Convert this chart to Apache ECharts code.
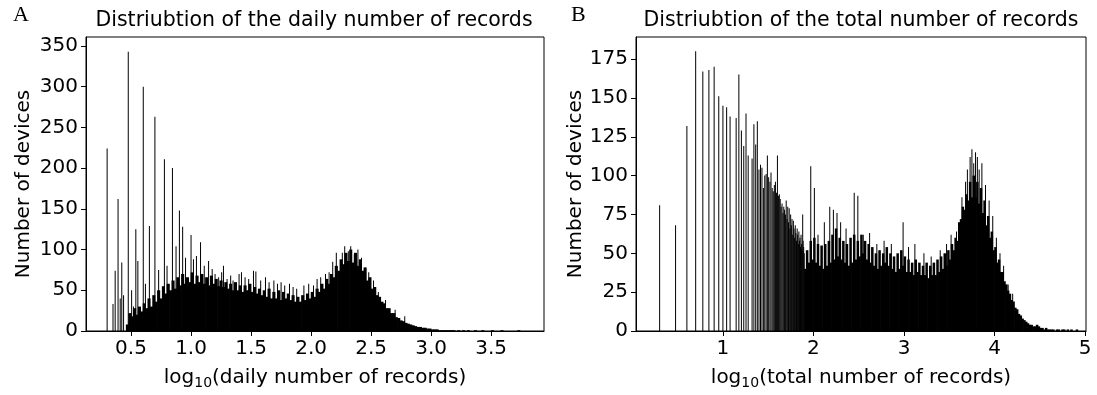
<!DOCTYPE html>
<html><head><meta charset="utf-8">
<script src="https://cdn.jsdelivr.net/npm/echarts@6/dist/echarts.min.js"></script>
<style>html,body{margin:0;padding:0;background:#fff}#c{width:1097px;height:395px}</style>
</head><body><div id="c"></div>
<script>
// ---------- Panel A: daily number of records ----------
const A_binStart = 0.46, A_binWidth = 0.02;
const A_counts = [
 8,22,18,28,20,30,24,34,28,40,
 30,44,36,50,40,55,46,58,50,62,
 52,66,56,70,58,66,60,72,58,68,
 60,70,58,66,56,68,58,64,55,62,
 54,60,52,58,50,60,50,56,48,56,
 50,58,48,54,46,52,44,50,42,52,
 40,48,40,50,38,48,40,46,38,44,
 36,42,36,44,38,46,40,48,42,52,
 48,58,52,64,58,70,66,80,74,88,
 82,96,86,100,84,96,80,88,74,78,
 62,66,52,54,44,42,36,34,28,28,
 22,22,17,16,13,12,10,9,8,7,
 6,5,5,4,4,3,3,2,2,2,
 1,1,1,1,1,1,1,0,1,0,
 1,0,1,0,0,1,0,0,1,0,
 0,0,1,0,0,0,1,0,0,0,
 0,0,0,1,0,0];
const A_spikes = [
 [0.301,224],[0.35,33],[0.368,74],[0.392,162],[0.41,40],[0.423,84],[0.438,44],[0.477,343],
 [0.505,50],[0.52,30],[0.54,125],[0.557,86],[0.602,300],[0.62,58],[0.653,129],[0.699,263],
 [0.73,75],[0.778,211],[0.80,80],[0.845,200],[0.875,104],[0.903,148],[0.93,128],[0.954,90],
 [1.0,118],[1.02,88],[1.045,92],[1.079,109],[1.11,80],[1.146,86],[1.176,76],[1.2,70],
 [1.23,66],[1.255,72],[1.27,80],[1.30,64],[1.33,68],[1.35,62],[1.40,70],[1.42,72],[1.45,66],
 [1.48,64],[1.52,74],[1.54,73],[1.58,62],[1.62,66],[1.65,60],[1.69,62],[1.72,58],[1.75,60],
 [1.78,56],[1.82,58],[1.85,54],[1.88,52],[1.94,56],[1.98,58],[2.02,56],[2.05,64],[2.08,66],
 [2.12,70],[2.15,72],[2.18,85],[2.21,96],[2.26,96],[2.28,104],[2.31,98],[2.33,104],[2.36,94],
 [2.39,100],[2.42,90],[2.45,78],[2.48,72],[2.52,62],[2.56,48],[2.62,38],[2.7,26],[2.78,18]];
const A_xTicks = [0.5,1.0,1.5,2.0,2.5,3.0,3.5];
const A_yTicks = [0,50,100,150,200,250,300,350];

// ---------- Panel B: total number of records ----------
const B_binStart = 1.90, B_binWidth = 0.02;
const B_counts = [
 40,52,44,58,46,60,44,56,42,55,
 40,56,42,58,44,62,46,66,48,60,
 46,58,44,56,42,60,44,62,46,58,
 48,62,50,58,46,56,44,54,42,50,
 40,52,42,50,44,54,42,50,40,48,
 38,50,40,52,42,48,38,46,38,44,
 36,46,38,44,36,42,36,44,34,42,
 36,44,36,46,38,48,40,50,42,52,
 46,56,52,60,58,70,72,80,78,88,
 84,96,86,100,86,96,82,92,76,84,
 68,74,60,64,52,54,44,46,38,38,
 32,30,26,24,20,19,15,14,11,10,
 8,7,6,5,4,4,3,3,4,3,
 2,2,1,2,1,1,1,1,0,1,
 1,0,1,1,0,1,0,1,0,0,
 1];
const B_spikes = [
 [0.301,81],[0.477,68],[0.602,132],[0.699,180],[0.778,167],[0.845,168],[0.903,170],[0.954,151],
 [1.0,145],[1.041,144],[1.079,138],[1.146,137],[1.176,165],[1.204,129],[1.230,119],[1.255,140],
 [1.279,113],[1.322,111],[1.342,133],[1.362,120],[1.380,135],[1.398,104],[1.415,107],[1.431,105],
 [1.447,92],[1.462,100],[1.477,101],[1.491,113],[1.505,99],[1.519,96],[1.531,102],[1.544,92],
 [1.556,90],[1.568,94],[1.580,96],[1.591,89],[1.602,113],[1.613,87],[1.623,88],[1.633,85],
 [1.643,80],[1.653,82],[1.663,76],[1.672,80],[1.681,78],[1.690,75],[1.699,84],[1.708,72],
 [1.716,80],[1.724,70],[1.732,79],[1.740,66],[1.748,75],[1.756,68],[1.763,72],[1.771,62],
 [1.778,71],[1.785,66],[1.792,60],[1.799,68],[1.806,63],[1.813,58],[1.820,66],[1.826,62],
 [1.833,56],[1.839,64],[1.845,58],[1.851,60],[1.857,54],[1.863,62],[1.869,56],[1.875,52],
 [1.881,75],[1.886,58],[1.892,54],[1.898,50],
 [1.97,106],[2.01,92],[2.05,62],[2.12,70],[2.18,80],[2.22,78],[2.26,76],[2.30,70],[2.36,66],
 [2.45,89],[2.49,87],[2.55,62],[2.62,63],[2.70,56],[2.78,58],[2.86,56],[2.99,70],[3.05,54],
 [3.12,56],[3.22,50],[3.30,48],[3.40,52],[3.47,56],[3.52,62],[3.58,64],[3.64,86],[3.68,96],
 [3.70,104],[3.73,112],[3.75,117],[3.77,108],[3.79,115],[3.81,112],[3.83,104],[3.86,108],
 [3.90,94],[3.94,84],[3.98,74],[4.02,60],[4.06,50],[4.10,42],[4.15,30],[4.20,24]];
const B_xTicks = [1,2,3,4,5];
const B_yTicks = [0,25,50,75,100,125,150,175];

const FONT = 'DejaVu Sans';
function bins(start, w, counts){ return counts.map((c,i)=>[start+i*w, start+(i+1)*w, c]); }

function renderBin(params, api){
  const p0 = api.coord([api.value(0), 0]);
  const p1 = api.coord([api.value(1), api.value(2)]);
  const h = p0[1]-p1[1];
  if (h <= 0) return null;
  return {type:'rect', shape:{x:p0[0]-0.35, y:p1[1], width:(p1[0]-p0[0])+0.7, height:h}, style:{fill:'#000'}};
}
function renderSpike(params, api){
  const p0 = api.coord([api.value(0), 0]);
  const p1 = api.coord([api.value(0), api.value(1)]);
  return {type:'rect', shape:{x:p0[0]-0.5, y:p1[1], width:1, height:p0[1]-p1[1]}, style:{fill:'#000'}};
}

function xAxis(grid, min, max, ticks, fmt, label){
  return {gridIndex:grid, type:'value', min:min, max:max, z:10,
    name:label, nameLocation:'middle', nameGap:35,
    nameTextStyle:{fontSize:20, fontFamily:FONT, color:'#000',
      rich:{s:{fontSize:14, fontFamily:FONT, color:'#000', padding:[10,0,0,0]}}},
    axisLine:{show:true, lineStyle:{color:'#000', width:1}},
    axisTick:{show:true, length:5, inside:false, customValues:ticks, lineStyle:{color:'#000'}},
    axisLabel:{fontSize:20, fontFamily:FONT, color:'#000', margin:8, customValues:ticks, formatter:fmt},
    splitLine:{show:false}};
}
function yAxis(grid, max, ticks, gap){
  return {gridIndex:grid, type:'value', min:0, max:max, z:10,
    name:'Number of devices', nameLocation:'middle', nameGap:gap,
    nameTextStyle:{fontSize:20, fontFamily:FONT, color:'#000'},
    axisLine:{show:true, lineStyle:{color:'#000', width:1}},
    axisTick:{show:true, length:5, customValues:ticks, lineStyle:{color:'#000'}},
    axisLabel:{fontSize:20, fontFamily:FONT, color:'#000', margin:8, customValues:ticks},
    splitLine:{show:false}};
}

const chart = echarts.init(document.getElementById('c'), null, {renderer:'canvas'});
chart.setOption({
  animation:false,
  backgroundColor:'#fff',
  grid:[
    {left:86, right:553, top:37, bottom:61, show:true, borderColor:'#000', borderWidth:1, backgroundColor:'transparent'},
    {left:636, right:11, top:37, bottom:61, show:true, borderColor:'#000', borderWidth:1, backgroundColor:'transparent'}
  ],
  xAxis:[
    xAxis(0, 0.125, 3.94, A_xTicks, v=>Number(v).toFixed(1), 'log{s|10}(daily number of records)'),
    xAxis(1, 0.04, 5.01, B_xTicks, v=>String(Math.round(v)), 'log{s|10}(total number of records)')
  ],
  yAxis:[ yAxis(0, 361, A_yTicks, 52), yAxis(1, 189.2, B_yTicks, 50) ],
  graphic:[
    {type:'text', x:314, y:21, style:{text:'Distriubtion of the daily number of records', font:'20.5px "DejaVu Sans"', fill:'#000', align:'center', verticalAlign:'middle'}},
    {type:'text', x:861, y:21, style:{text:'Distriubtion of the total number of records', font:'20.5px "DejaVu Sans"', fill:'#000', align:'center', verticalAlign:'middle'}},
    {type:'text', x:13, y:15, style:{text:'A', font:'22px "Liberation Serif"', fill:'#000', align:'left', verticalAlign:'middle'}},
    {type:'text', x:571, y:15, style:{text:'B', font:'22px "Liberation Serif"', fill:'#000', align:'left', verticalAlign:'middle'}}
  ],
  series:[
    {type:'custom', xAxisIndex:0, yAxisIndex:0, renderItem:renderBin, encode:{x:[0,1], y:2}, data:bins(A_binStart, A_binWidth, A_counts), clip:true, z:2},
    {type:'custom', xAxisIndex:0, yAxisIndex:0, renderItem:renderSpike, encode:{x:0, y:1}, data:A_spikes, clip:true, z:3},
    {type:'custom', xAxisIndex:1, yAxisIndex:1, renderItem:renderBin, encode:{x:[0,1], y:2}, data:bins(B_binStart, B_binWidth, B_counts), clip:true, z:2},
    {type:'custom', xAxisIndex:1, yAxisIndex:1, renderItem:renderSpike, encode:{x:0, y:1}, data:B_spikes, clip:true, z:3}
  ]
});
</script></body></html>
